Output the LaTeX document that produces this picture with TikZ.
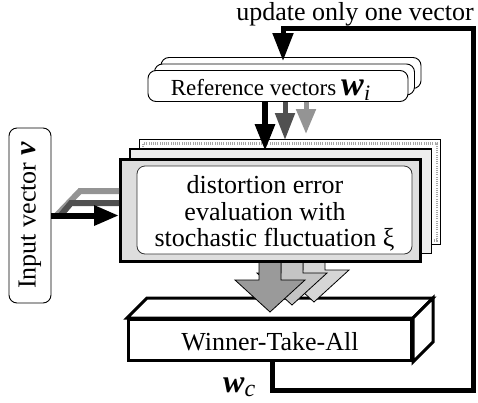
\documentclass[tikz,border=0pt]{standalone}
\usepackage{fontspec}
\setmainfont{Liberation Serif}
\usetikzlibrary{arrows.meta,calc}
\definecolor{boxgray}{HTML}{DEDEDE}
\definecolor{layergray}{HTML}{EEEEEE}
\definecolor{dgray}{HTML}{505050}
\definecolor{lgray}{HTML}{949494}
\definecolor{bigarrow}{HTML}{9A9A9A}
\definecolor{backarrowA}{HTML}{C4C4C4}
\definecolor{backarrowB}{HTML}{D6D6D6}
\newcommand{\bvec}[1]{\textbf{\textit{#1}}}
\newcommand{\fsbig}{\fontsize{26pt}{26.5pt}\selectfont}
\newcommand{\fsref}{\fontsize{23pt}{24pt}\selectfont}
\newcommand{\fsw}{\fontsize{34pt}{34pt}\selectfont}
\newcommand{\fssub}{\fontsize{22pt}{22pt}\selectfont}
\begin{document}
\begin{tikzpicture}[x=1pt,y=-1pt,
  refbox/.style={draw=black,line width=0.9pt,fill=white,rounded corners=8pt,
    minimum width=260pt,minimum height=31pt,inner sep=0pt},
  stackbox/.style={draw=black,minimum width=300pt,minimum height=102pt,inner sep=0pt},
  heavy/.style={line width=3pt,line join=miter},
  blockarr/.style={draw=black,line width=0.8pt,line join=miter},
  inarrow/.style={line width=6pt,line join=miter},
  fbline/.style={line width=5pt,line join=miter,-{Triangle[length=28pt,width=20pt]}},
]
\useasboundingbox (0,0) rectangle (478,402);

% Winner-Take-All box
\node[draw=black,heavy,fill=white,minimum width=283pt,minimum height=41pt,inner sep=0pt,
  font=\fsbig,text height=20pt,text depth=0pt] (wta) at (270,340) {Winner-Take-All};
\draw[heavy,fill=white] (wta.north west) -- ++(20,-20) -- ($(wta.north east)+(20,-20)$) -- (wta.north east) -- cycle;
\draw[heavy,fill=white] (wta.north east) -- ++(20,-20) -- ($(wta.south east)+(20,-20)$) -- (wta.south east) -- cycle;

% block arrows
\coordinate (tipC) at (314,302);
\coordinate (tipB) at (292,305);
\coordinate (tipA) at (270,312);
\foreach \t/\c in {tipC/backarrowB, tipB/backarrowA, tipA/bigarrow}
  \draw[blockarr,fill=\c] (\t) -- ++(-35,-32) -- ++(24,0) -- ++(0,-45) -- ++(22,0) -- ++(0,45) -- ++(24,0) -- cycle;

% stacked evaluation boxes
\node[stackbox,minimum width=301.5pt,minimum height=104.5pt,line width=1.2pt,fill=white] (lay3) at (290,192) {};
\draw[gray!70,line width=2.5pt,dash pattern=on 1pt off 1.2pt] ($(lay3.north west)+(4.5,4.5)$) rectangle ($(lay3.south east)+(-4.5,-4.5)$);
\node[stackbox,minimum width=301.5pt,minimum height=104.5pt,line width=1.5pt,fill=layergray] (lay2) at (280.5,201) {};
\node[stackbox,heavy,fill=boxgray] (front) at (270.5,210.5) {};
\node[draw=black!80,line width=0.8pt,fill=white,rounded corners=8pt,minimum width=275pt,minimum height=88pt,inner sep=0pt] (inner) at (274.5,210) {};
\node[font=\fsbig,align=center,inner sep=0pt] (txt) at (265,213.5) {distortion error\\evaluation with\\\hspace*{19pt}stochastic fluctuation ξ};

% reference vectors
\node[refbox] (ref3) at (291,73) {};
\node[refbox] (ref2) at (284.5,79.5) {};
\node[refbox,font=\fsref,text height=18pt,text depth=0pt] (ref1) at (278,86) {Reference vectors\hspace{5pt}{\fsw\bvec{w}}\raisebox{-5pt}{\fssub\textit{i}}\hspace*{15pt}};

% arrows from reference vectors
\coordinate (ta1) at (265,151);
\coordinate (ta2) at (285,140);
\coordinate (ta3) at (306,134);
\draw[line width=6pt,-{Triangle[length=27pt,width=19pt]}] (ref1.south -| ta1) -- (ta1);
\draw[dgray,line width=5pt,-{Triangle[length=27pt,width=19pt]}] (ref1.south -| ta2) -- (ta2);
\draw[lgray,line width=5pt,-{Triangle[length=25pt,width=19pt]}] (ref1.south -| ta3) -- (ta3);

% input vector
\node[draw=black,line width=0.9pt,fill=white,rounded corners=8pt,minimum width=42pt,minimum height=175pt,inner sep=0pt] (inp) at (30,215.5) {\rotatebox{90}{\fsbig Input vector {\fontsize{30pt}{30pt}\selectfont\bvec{v}}}};
\coordinate (lgk) at (80,191);
\coordinate (dgk) at (71,203);
\draw[inarrow,lgray] ($(inp.east)+(5,0)$) -- (lgk) -- (front.west |- lgk);
\draw[inarrow,dgray] ($(inp.east)+(9,0)$) -- (dgk) -- (front.west |- dgk);
\draw[inarrow,-{Triangle[length=25pt,width=19pt]}] (inp.east) -- (inp.east -| front.west);

% feedback
\coordinate (fbA) at (272,390);
\coordinate (fbB) at (473,390);
\coordinate (fbC) at (473,28);
\coordinate (fbD) at (283,28);
\coordinate (fbE) at (283,61);
\draw[fbline] (wta.south -| fbA) -- (fbA) -- (fbB) -- (fbC) -- (fbD) -- (fbE);

% labels
\node[font=\fsbig,anchor=base east,inner sep=0pt] (upd) at (474,20) {update only one vector};
\node[anchor=base west,inner sep=0pt] (wc) at (223,392) {{\fontsize{32pt}{32pt}\selectfont\bvec{w}}\raisebox{-4pt}{\fontsize{24pt}{24pt}\selectfont\textit{c}}};
\end{tikzpicture}
\end{document}
